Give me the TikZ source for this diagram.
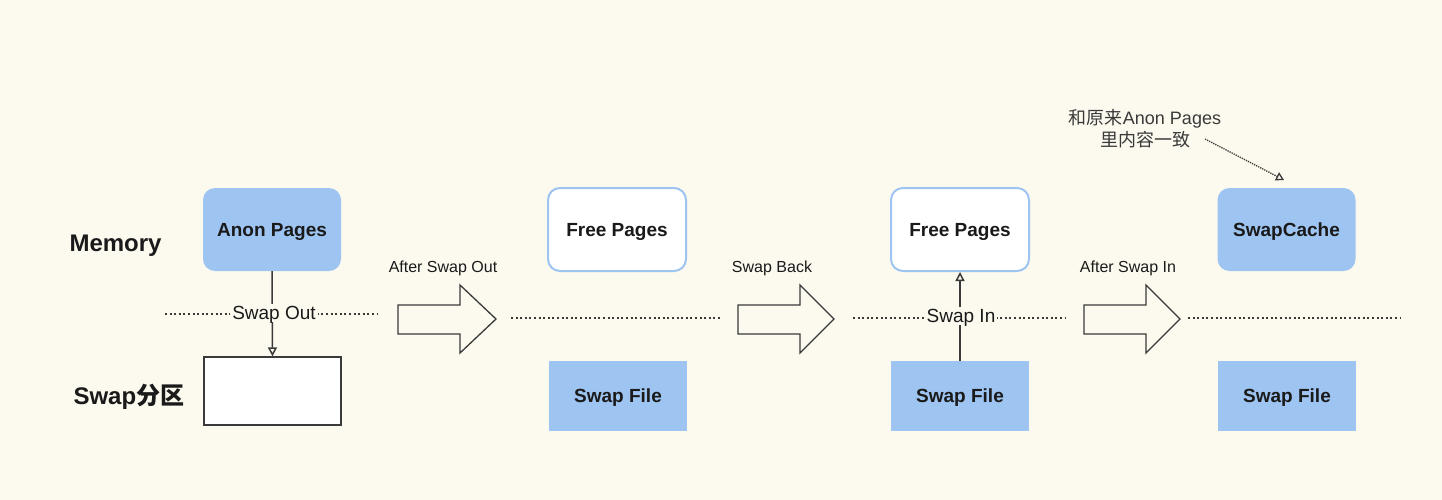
\documentclass[tikz,border=0pt]{standalone}
\usepackage{fontspec}
\setmainfont{Liberation Sans}
\newfontfamily\cjk{Noto Sans CJK SC}
\usetikzlibrary{arrows.meta}
\definecolor{bg}{HTML}{FCF9EE}
\definecolor{boxblue}{HTML}{9EC4F1}
\definecolor{edgeblue}{HTML}{9EC4F1}
\definecolor{txt}{HTML}{1A1A1A}
\definecolor{lin}{HTML}{3A3A3A}
\tikzset{
  filledbox/.style={fill=boxblue, draw=none, minimum width=138pt, minimum height=83pt, inner sep=0pt, text height=13.7pt, text depth=0pt, font=\fontsize{19}{22}\selectfont\bfseries, text=txt},
  roundfilled/.style={filledbox, rounded corners=12pt},
  roundfree/.style={filledbox, fill=white, draw=edgeblue, line width=2pt, rounded corners=12pt},
  filebox/.style={filledbox, minimum height=70pt},
  partbox/.style={draw=lin, fill=white, line width=1.3pt, minimum width=137pt, minimum height=68pt, inner sep=0pt},
  dotline/.style={draw=lin, line width=2pt, dash pattern=on 2pt off 2.6pt},
  flowarrow/.style={draw=lin, line width=1.5pt, -{Triangle[open, length=9pt, width=9pt, line width=1.5pt]}},
  onlabel/.style={fill=bg, inner sep=2pt, text height=13.7pt, text depth=0pt, font=\fontsize{19}{22}\selectfont, text=txt},
  steplabel/.style={font=\fontsize{16}{19}\selectfont, text height=11.5pt, text depth=0pt, text=txt},
  rowlabel/.style={font=\fontsize{24}{28}\selectfont\bfseries, text height=17.3pt, text depth=0pt, text=txt, anchor=west},
  blockarrow/.style={draw=lin, line width=1.3pt, fill=bg},
}
\begin{document}
\begin{tikzpicture}[x=1pt, y=-1pt]
\fill[bg] (0,0) rectangle (1442,500);
\useasboundingbox (0,0) rectangle (1442,500);

% row labels
\node[rowlabel] (mem) at (66,243) {Memory};
\node[rowlabel] (swp) at (70,396) {Swap{\cjk 分区}};

% stage 1
\draw[dotline] (165,314) -- (377,314);
\node[roundfilled] (anon) at (272,229.5) {Anon Pages};
\node[partbox] (part) at (272.5,391) {};
\draw[flowarrow] (anon.south) -- (part.north);
\node[onlabel] (so) at (274,313) {Swap Out};

% block arrow 1
\draw[blockarrow] (398,305) coordinate (a1) -- (460,305) -- (460,285) -- (496,319) -- (460,353) -- (460,334) -- (398,334) -- cycle;
\node[steplabel] (l1) at (443,267) {After Swap Out};

% stage 2
\draw[dotline] (511,318) -- (722,318);
\node[roundfree] (free1) at (617,229.5) {Free Pages};
\node[filebox] (file1) at (618,396) {Swap File};

% block arrow 2
\draw[blockarrow] (738,305) coordinate (a2) -- (800,305) -- (800,285) -- (834,319) -- (800,353) -- (800,334) -- (738,334) -- cycle;
\node[steplabel] (l2) at (772,267) {Swap Back};

% stage 3
\draw[dotline] (853,318) -- (1065,318);
\node[roundfree] (free2) at (960,229.5) {Free Pages};
\node[filebox] (file2) at (960,396) {Swap File};
\draw[flowarrow] (file2.north) -- (free2.south);
\node[onlabel] (si) at (961,316) {Swap In};

% block arrow 3
\draw[blockarrow] (1084,305) coordinate (a3) -- (1146,305) -- (1146,285) -- (1180,319) -- (1146,353) -- (1146,334) -- (1084,334) -- cycle;
\node[steplabel] (l3) at (1128,267) {After Swap In};

% stage 4
\draw[dotline] (1188,318) -- (1400,318);
\node[roundfilled] (cache) at (1286.5,229.5) {SwapCache};
\node[filebox] (file3) at (1287,396) {Swap File};

% annotation
\node[font=\fontsize{18}{22}\selectfont, text=lin, align=center] (note) at (1145,129) {{\cjk 和原来}Anon Pages\\{\cjk 里内容一致}};
\coordinate (nstart) at (1205,139);
\coordinate (nend) at (1284,180);
\draw[draw=lin, line width=1.3pt, dash pattern=on 1.3pt off 1pt, -{Triangle[open, length=8pt, width=9pt, line width=1.3pt]}] (nstart) -- (nend);
\end{tikzpicture}
\end{document}
